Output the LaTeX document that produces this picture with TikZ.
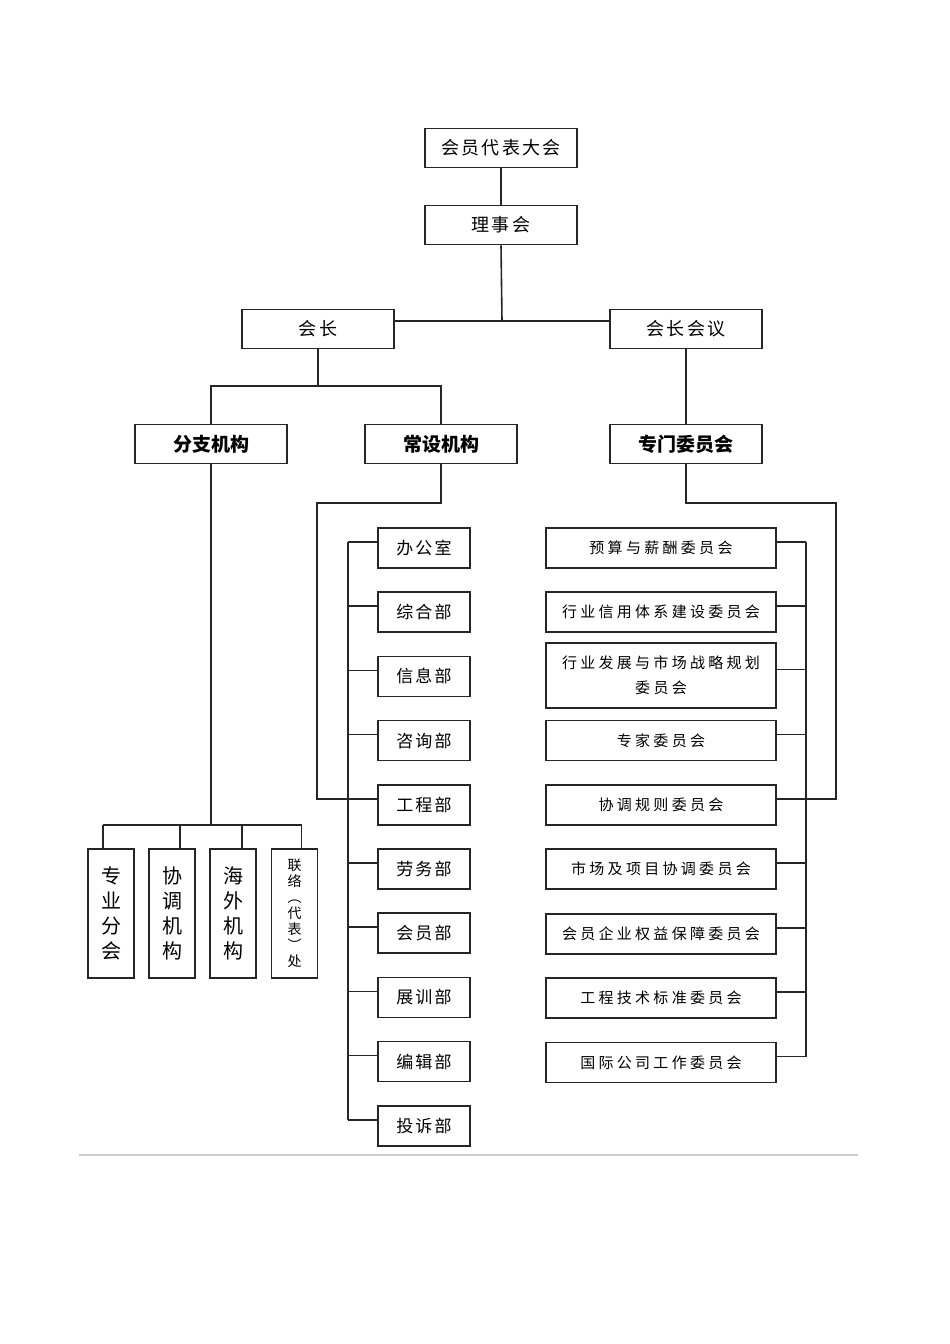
\documentclass[tikz,border=0pt]{standalone}
\usepackage{fontspec}
\usepackage{tikz}
\usetikzlibrary{positioning, calc}
\newfontfamily\cjk{Noto Sans CJK SC}
\newfontfamily\cjkwide{Noto Sans CJK SC}[LetterSpace=12]
\newfontfamily\cjkcom{Noto Sans CJK SC}[LetterSpace=22]

\tikzset{
  link/.style={line width=1.6pt, black!85},
  orgbox/.style={draw, line width=1.6pt, black!85, text=black, minimum width=152pt, minimum height=39pt,
    inner sep=0pt, font=\cjkwide\fontsize{18}{22}\selectfont},
  headbox/.style={orgbox, font=\cjk\bfseries\fontsize{19}{22}\selectfont},
  deptbox/.style={orgbox, minimum width=92pt, minimum height=40pt, font=\cjkwide\fontsize{17}{20}\selectfont},
  combox/.style={orgbox, minimum width=230pt, align=center, font=\cjkcom\fontsize{15}{25}\selectfont},
  vbox/.style={orgbox, minimum width=46pt, minimum height=129pt, align=center}
}

\begin{document}
\begin{tikzpicture}[x=1pt, y=-1pt]
\useasboundingbox (0,0) rectangle (950,1344);

% top of the tree
\node[orgbox] (dahui) at (501,148) {会员代表大会};
\node[orgbox] (lishi) at (501,225) {理事会};
\node[orgbox] (huizhang) at (318,329) {会长};
\node[orgbox] (huiyi) at (686,329) {会长会议};
\node[headbox] (fenzhi) at (211,444) {分支机构};
\node[headbox] (changshe) at (441,444) {常设机构};
\node[headbox] (zhuanmen) at (686,444) {专门委员会};

\coordinate (top) at (502,321);
\coordinate (hz) at (318,386);
\draw[link] (dahui) -- (lishi);
\draw[link] (lishi.south) -- (top);
\draw[link] ([yshift=8pt]huizhang.east) -- ([yshift=8pt]huiyi.west);
\draw[link] (huizhang.south) -- (hz);
\draw[link] (fenzhi.north) -- (fenzhi.north |- hz) -- (changshe.north |- hz) -- (changshe.north);
\draw[link] (huiyi) -- (zhuanmen);

% branch offices
\foreach \x/\s/\txt [count=\i] in {111/-8/{专\\业\\分\\会}, 172/8/{协\\调\\机\\构}, 233/9/{海\\外\\机\\构}}
  \node[vbox, font=\cjk\fontsize{20}{25}\selectfont] (fz\i) at (\x,913.5) {\txt};
\node[vbox, font=\cjk\fontsize{14}{16}\selectfont] (fz4) at (294.5,913.5) {联\\络\\︵\\代\\表\\︶\\处};

\coordinate (fzbar) at (211,825);
\draw[link] (fenzhi) -- (fzbar);
\draw[link] ([xshift=-8pt]fz1.north |- fzbar) -- ([xshift=7pt]fz4.north |- fzbar);
\foreach \i/\s in {1/-8, 2/8, 3/9, 4/7}
  \draw[link] ([xshift=\s pt]fz\i.north) -- ([xshift=\s pt]fz\i.north |- fzbar);

% standing departments
\foreach \name [count=\i from 0] in {办公室, 综合部, 信息部, 咨询部, 工程部, 劳务部, 会员部, 展训部, 编辑部, 投诉部} {
  \node[deptbox] (dept\i) at (424, 548+64.2*\i) {\name};
  \coordinate (dl\i) at ([yshift=6pt]dept\i.west);
}
\coordinate (spine) at (348,0);
\coordinate (cs) at (317,503);
\draw[link] (dl0 -| spine) -- (dl9 -| spine);
\foreach \i in {0,...,9}
  \draw[link] (dl\i) -- (dl\i -| spine);
\draw[link] (changshe.south) |- (cs) |- (dl4);

% special committees
\foreach \y/\h/\name [count=\i from 0] in {548/40/预算与薪酬委员会, 612/40/行业信用体系建设委员会,
    675.5/65/{行业发展与市场战略规划\\委员会}, 740.5/40/专家委员会, 805/40/协调规则委员会,
    869/40/市场及项目协调委员会, 934/40/会员企业权益保障委员会, 998/40/工程技术标准委员会,
    1062.5/40/国际公司工作委员会} {
  \node[combox, minimum height=\h pt] (com\i) at (661,\y) {\name};
  \coordinate (cr\i) at ([yshift=6pt]com\i.east);
}
\coordinate (comspine) at (806,0);
\coordinate (zm) at (836,503);
\draw[link] (cr0 -| comspine) -- (cr8 -| comspine);
\foreach \i in {0,...,8}
  \draw[link] (cr\i) -- (cr\i -| comspine);
\draw[link] (zhuanmen.south) |- (zm) |- (cr4);

% page rule
\draw[black!20, line width=2pt] (79,1155) -- (858,1155);
\end{tikzpicture}
\end{document}
